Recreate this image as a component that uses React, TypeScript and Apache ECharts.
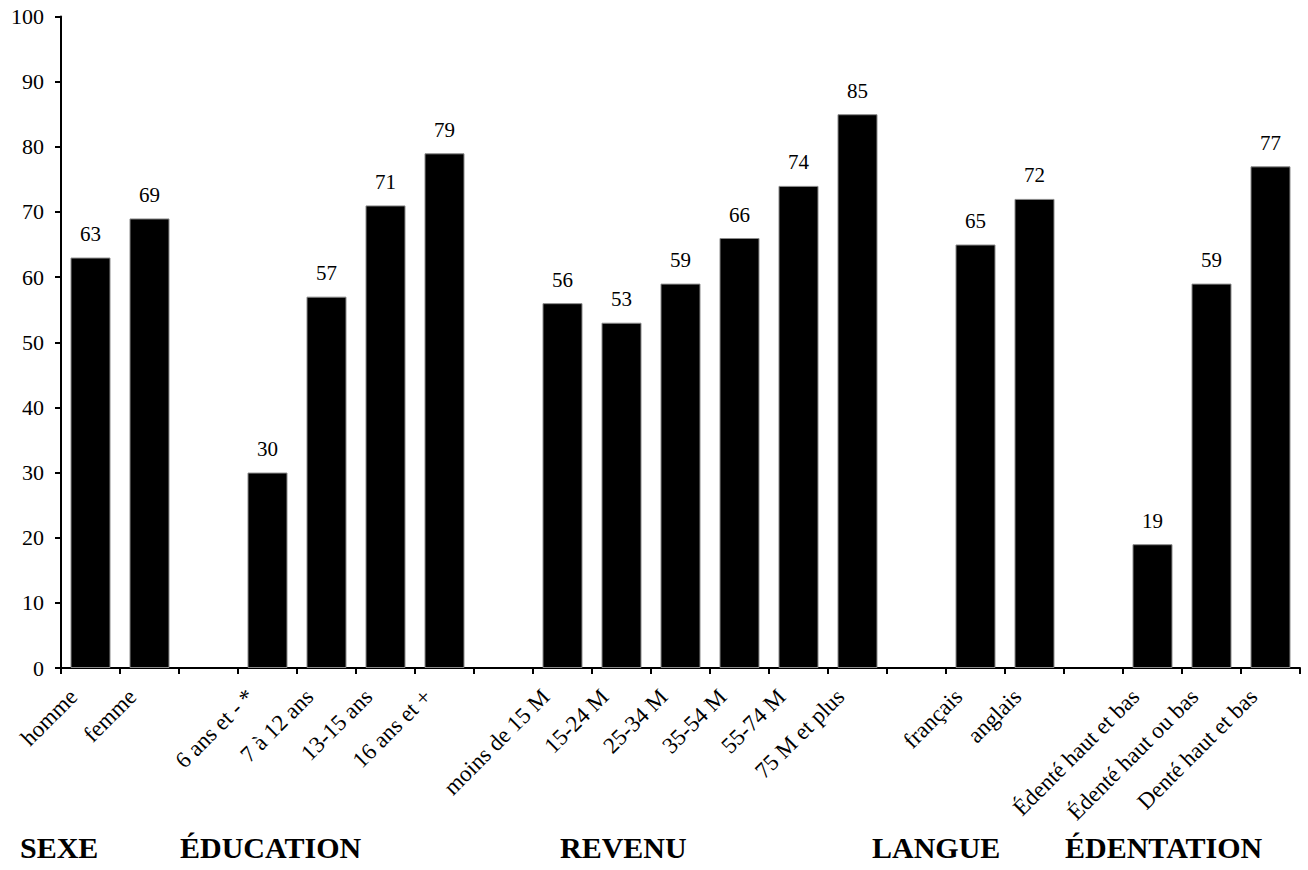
import React, { useEffect, useRef } from "react";
import * as echarts from "echarts";

const categories = [
  "homme", "femme", "",
  "6 ans et - *", "7 à 12 ans", "13-15 ans", "16 ans et +", "",
  "moins de 15 M", "15-24 M", "25-34 M", "35-54 M", "55-74 M", "75 M et plus", "",
  "français", "anglais", "",
  "Édenté haut et bas", "Édenté haut ou bas", "Denté haut et bas",
];
const values: (number | string)[] = [
  63, 69, "-",
  30, 57, 71, 79, "-",
  56, 53, 59, 66, 74, 85, "-",
  65, 72, "-",
  19, 59, 77,
];
const yTicks = { min: 0, max: 100, interval: 10 };
const groupLabels = ["SEXE", "ÉDUCATION", "REVENU", "LANGUE", "ÉDENTATION"];
const groupLabelX = [20, 180, 560, 872, 1065];

const FONT = "Liberation Serif";

export default function App() {
  const ref = useRef<HTMLDivElement>(null);
  useEffect(() => {
    if (!ref.current) return;
    const chart = echarts.init(ref.current, undefined, { renderer: "svg" });
    chart.setOption({
      animation: false,
      backgroundColor: "#ffffff",
      textStyle: { fontFamily: FONT },
      grid: { left: 61, right: 8, top: 16.5, bottom: 202, containLabel: false },
      xAxis: {
        type: "category",
        data: categories,
        boundaryGap: true,
        axisLine: { lineStyle: { color: "#000", width: 2 } },
        axisTick: { show: true, alignWithLabel: false, interval: 0, length: 6, lineStyle: { color: "#000", width: 2 } },
        axisLabel: {
          interval: 0,
          rotate: 45,
          margin: 8,
          padding: [0, 24, 0, 0],
          color: "#000",
          fontSize: 23,
          fontFamily: FONT,
        },
        splitLine: { show: false },
      },
      yAxis: {
        type: "value",
        min: yTicks.min,
        max: yTicks.max,
        interval: yTicks.interval,
        axisLine: { show: true, lineStyle: { color: "#000", width: 2 } },
        axisTick: { show: true, length: 6, lineStyle: { color: "#000", width: 2 } },
        axisLabel: { color: "#000", fontSize: 22, fontFamily: FONT, margin: 17 },
        splitLine: { show: false },
      },
      series: [
        {
          type: "bar",
          data: values,
          barWidth: 40,
          itemStyle: { color: "#000", borderColor: "#8a8a8a", borderWidth: 1 },
          label: {
            show: true,
            position: "top",
            distance: 13,
            color: "#000",
            fontSize: 21,
            fontFamily: FONT,
          },
        },
      ],
      graphic: groupLabels.map((t, i) => ({
        type: "text",
        left: groupLabelX[i],
        top: 832,
        style: {
          text: t,
          font: `bold 30px ${FONT}`,
          fill: "#000",
        },
      })),
    });
    return () => chart.dispose();
  }, []);
  return (
    <div
      ref={ref}
      style={{ position: "fixed", left: 0, top: 0, width: 1308, height: 870, background: "#fff" }}
    />
  );
}
